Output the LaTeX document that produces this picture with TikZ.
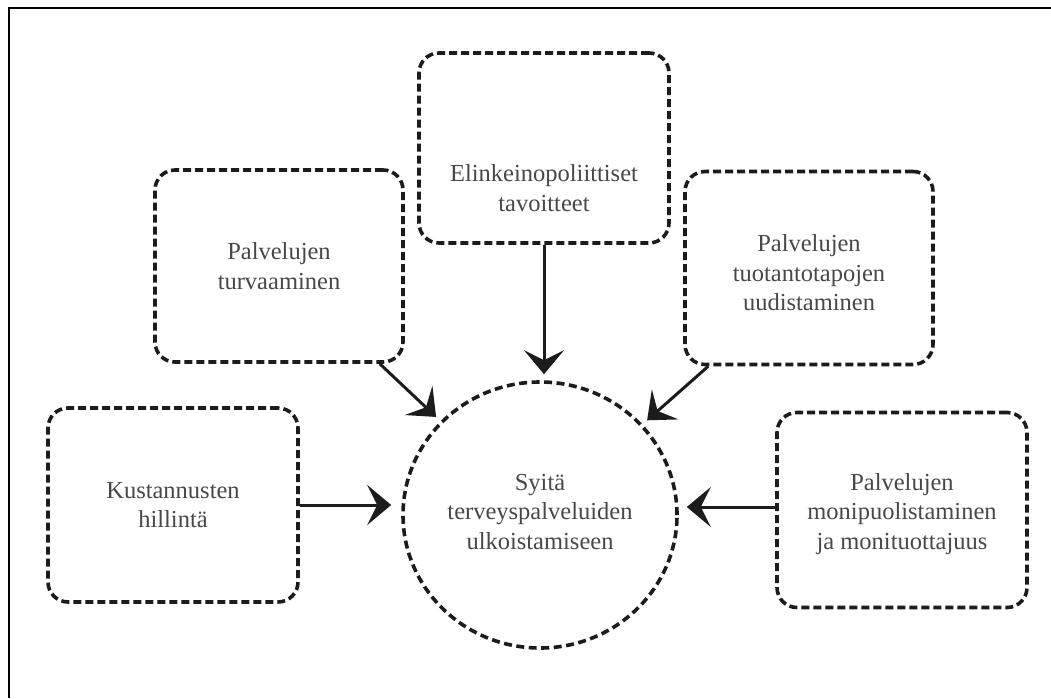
\documentclass[tikz,border=0pt]{standalone}
\usepackage{fontspec}
\setmainfont{Liberation Serif}
\usetikzlibrary{arrows.meta,shapes.geometric,calc}
\definecolor{ink}{RGB}{28,28,28}
\definecolor{txt}{RGB}{72,72,72}
\begin{document}
\begin{tikzpicture}[x=1pt,y=-1pt,
  lbl/.style={text=txt, align=center, font=\fontsize{24.5}{29.5}\selectfont},
  reason/.style={lbl, draw=ink, line width=3.6pt, dash pattern=on 8pt off 4pt,
    rounded corners=20pt, inner sep=0pt, minimum width=250pt},
  hub/.style={ellipse, draw=ink, line width=3.6pt, dash pattern=on 8pt off 4.5pt,
    inner sep=0pt, minimum width=274pt, minimum height=266pt},
  arr/.style={draw=ink, line width=3pt,
    -{Stealth[length=24pt,width=40pt,inset=10pt]}, shorten >=6pt}
]
\useasboundingbox (0,0) rectangle (1051,698);
\fill[white] (0,0) rectangle (1051,698);
% frame
\draw[black, line width=2.2pt] (9,698) -- (9,8) -- (1051,8);

% central goal
\node[hub] (circ) at (540,515) {};
\node[lbl] (ctext) at (540,512) {Syitä\\terveyspalveluiden\\ulkoistamiseen};

% surrounding reasons
\node[reason, minimum height=190pt] (top) at (544,148) {};
\node[lbl] (toptext) at (544,188) {Elinkeinopoliittiset\\tavoitteet};
\node[reason, minimum width=248pt, minimum height=192pt] (lt) at (279,266) {Palvelujen\\turvaaminen};
\node[reason, minimum width=248pt, minimum height=193pt] (rt) at (809,268) {};
\node[lbl] (rttext) at (809,273) {Palvelujen\\tuotantotapojen\\uudistaminen};
\node[reason, minimum height=194pt] (kust) at (173,505) {Kustannusten\\hillintä};
\node[reason, minimum height=195pt] (mon) at (902,510) {};
\node[lbl] (montext) at (902,514) {Palvelujen\\monipuolistaminen\\ja monituottajuus};

% connectors
\coordinate (monin) at ($(mon.west)+(0,-3)$);
\draw[arr] (top.south) -- (top.south |- circ.north);
\draw[arr] ($(lt.south east)+(-25,0)$) -- (circ);
\draw[arr] ($(rt.south west)+(25,0)$) -- (circ);
\draw[arr, shorten >=10pt] (kust.east) -- (kust.east -| circ.west);
\draw[arr, shorten >=8pt] (monin) -- (monin -| circ.east);
\end{tikzpicture}
\end{document}
